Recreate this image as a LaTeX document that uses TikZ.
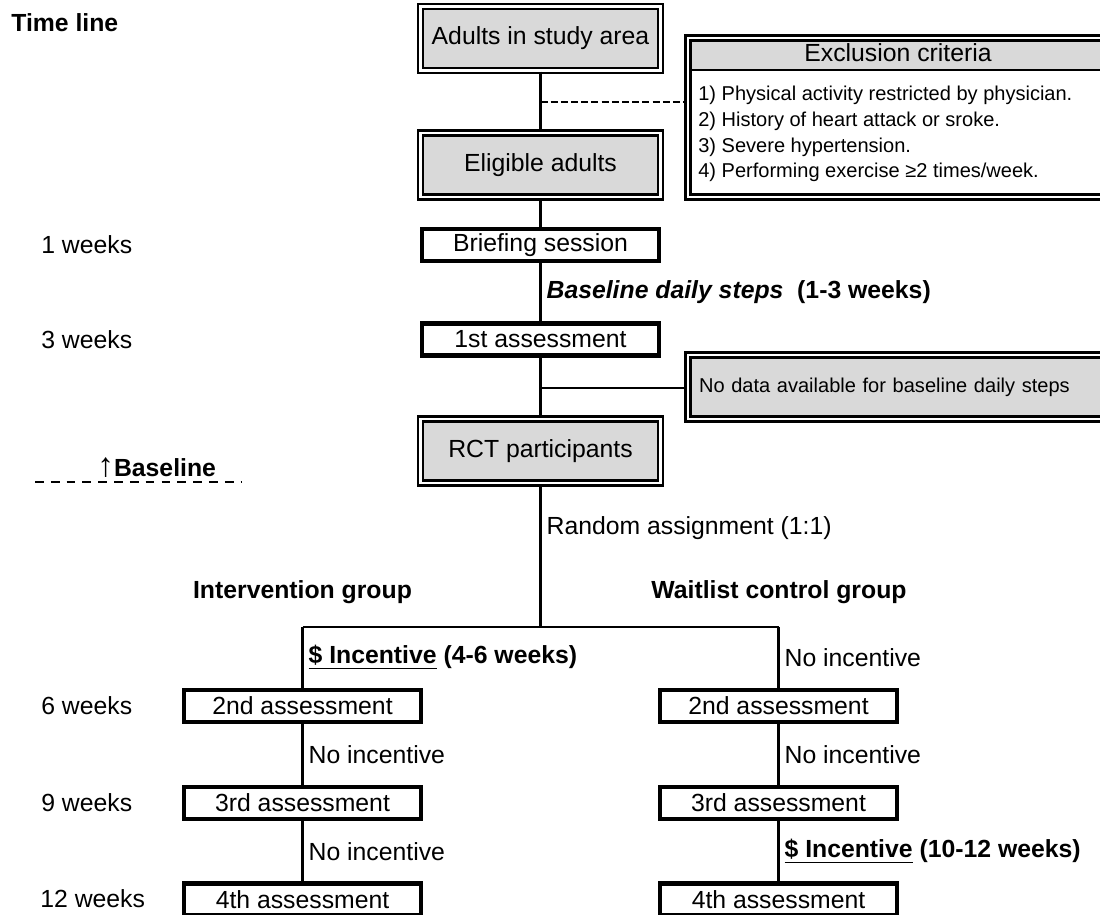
\documentclass[tikz,border=0pt]{standalone}
\usepackage{fontspec}
\setmainfont{Liberation Sans}
\usetikzlibrary{calc, positioning}

\tikzset{
  dblbox/.style={draw, double=white, double distance=1.5pt, line width=1.3pt, fill=black!15,
    minimum width=4.8cm, minimum height=1.28cm, inner sep=0pt},
  assessbox/.style={draw, line width=2.5pt, fill=white, minimum width=4.74cm,
    minimum height=0.64cm, inner sep=0pt},
  link/.style={line width=1.3pt},
  lbl/.style={right, inner xsep=0.1cm, inner ysep=0pt},
  timelbl/.style={anchor=west, inner sep=0pt},
  smalltext/.style={font=\fontsize{11.4}{14.6}\selectfont},
}

\begin{document}
\begin{tikzpicture}[x=0.02cm, y=-0.02cm, font=\fontsize{14.1}{17}\selectfont]
    \useasboundingbox (0,0) rectangle (1100,915);
    \clip (0,0) rectangle (1100,915);

    % time line
    \node[timelbl, font=\fontsize{14.1}{17}\selectfont\bfseries] (tl) at (11,23) {Time line};
    \node[timelbl] (t1) at (41,245) {1 weeks};
    \node[timelbl] (t3) at (41,340) {3 weeks};
    \node[timelbl] (t6) at (41,706) {6 weeks};
    \node[timelbl] (t9) at (41,803) {9 weeks};
    \node[timelbl] (t12) at (40,899) {12 weeks};

    % baseline marker
    \draw[line width=0.9pt, dash pattern=on 5pt off 4pt] (35,482) -- (242,482);
    \node[anchor=base west, inner sep=0pt, font=\fontsize{14.1}{17}\selectfont\bfseries] (base) at (97,477) {{\fontsize{19}{19}\selectfont\mdseries ↑}Baseline};

    % main column
    \node[dblbox] (adults) at (540.5,38.5) {Adults in study area};
    \node[dblbox] (eligible) at (540.5,165) {Eligible adults};
    \node[assessbox] (brief) at (540.5,245) {Briefing session};
    \node[assessbox] (first) at (540.5,339.5) {1st assessment};
    \node[dblbox] (rct) at (540.5,451) {RCT participants};

    % exclusion criteria
    \fill[black!15] (688,38) rectangle (1108,70);
    \node[dblbox, fill=none, minimum width=8.4cm, minimum height=3.18cm] (excl) at (898,117.5) {};
    \coordinate (hdr) at (0,70);
    \draw[link] ([xshift=2.5pt]excl.west |- hdr) -- ([xshift=-2.5pt]excl.east |- hdr);
    \node (excltitle) at (898,53) {Exclusion criteria};
    \node[smalltext, anchor=west, align=left, inner sep=0pt] (excllist) at (698,134) {1) Physical activity restricted by physician.\\
      2) History of heart attack or sroke.\\
      3) Severe hypertension.\\
      4) Performing exercise ≥2 times/week.};

    \node[dblbox, smalltext, minimum width=8.4cm, text width=7.96cm, align=left, inner xsep=0.22cm] (nodata) at (898,387) {No data available for baseline daily steps};

    % connectors main column
    \draw[link] (adults) -- (eligible);
    \coordinate (exclcut) at ($(adults.south)!0.5!(eligible.north)$);
    \draw[link, dash pattern=on 4pt off 1.8pt] (exclcut) -- (exclcut -| excl.west);
    \draw[link] (eligible) -- (brief);
    \draw[link] (brief) -- node[lbl, font=\fontsize{14.1}{17}\selectfont\bfseries] {\textit{Baseline daily steps}~ (1-3 weeks)} (first);
    \draw[link] (first) -- (rct);
    \coordinate (nodatacut) at ($(first.south)!0.5!(rct.north)$);
    \draw[link] (nodatacut) -- (nodatacut -| nodata.west);

    % random assignment
    \coordinate (split) at (540.5,627);
    \coordinate (splitL) at (302.5,627);
    \coordinate (splitR) at (778.5,627);
    \draw[link] (rct) -- node[lbl, pos=0.31] {Random assignment (1:1)} (split);
    \draw[link] (splitL) -- (splitR);
    \node[font=\fontsize{14.1}{17}\selectfont\bfseries] (intgrp) at (302.5,592) {Intervention group};
    \node[font=\fontsize{14.1}{17}\selectfont\bfseries] (waitgrp) at (779,592) {Waitlist control group};

    % intervention group
    \node[assessbox] (int2) at (302.5,706) {2nd assessment};
    \node[assessbox] (int3) at (302.5,803) {3rd assessment};
    \node[assessbox] (int4) at (302.5,899.5) {4th assessment};
    \draw[link] (splitL) -- node[lbl, font=\fontsize{14.1}{17}\selectfont\bfseries] {\underline{\$ Incentive} (4-6 weeks)} (int2);
    \draw[link] (int2) -- node[lbl] {No incentive} (int3);
    \draw[link] (int3) -- node[lbl] {No incentive} (int4);

    % waitlist control group
    \node[assessbox] (wait2) at (778.5,706) {2nd assessment};
    \node[assessbox] (wait3) at (778.5,803) {3rd assessment};
    \node[assessbox] (wait4) at (778.5,899.5) {4th assessment};
    \draw[link] (splitR) -- node[lbl] {No incentive} (wait2);
    \draw[link] (wait2) -- node[lbl] {No incentive} (wait3);
    \draw[link] (wait3) -- node[lbl, font=\fontsize{14.1}{17}\selectfont\bfseries] {\underline{\$ Incentive} (10-12 weeks)} (wait4);
\end{tikzpicture}
\end{document}
